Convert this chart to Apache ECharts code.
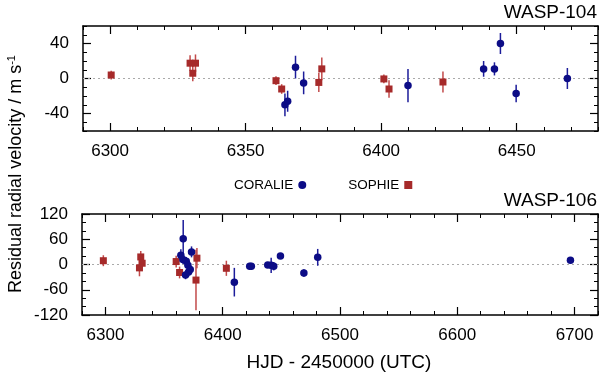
<!DOCTYPE html>
<html>
<head>
<meta charset="utf-8">
<script src="https://cdn.jsdelivr.net/npm/echarts@6/dist/echarts.min.js"></script>
<style>
  html, body { margin: 0; padding: 0; background: #fff; }
  #chart { width: 600px; height: 378px; }
</style>
</head>
<body>
<div id="chart"></div>
<script>
// WASP-104 residuals (HJD - 2450000, m/s)
const w104SophieT = [6300.4, 6329.5, 6330.5, 6331.5, 6361.2, 6363.3, 6377.0, 6378.1, 6401.0, 6402.9, 6422.8];
const w104SophieRV = [4, 17.5, 6, 17.5, -2.5, -12, -4.5, 11, -0.5, -12, -4];
const w104SophieErr = [5, 9, 9, 10, 5, 5.5, 11, 13, 5, 10, 12];

const w104CoralieT = [6364.5, 6365.5, 6368.4, 6371.4, 6409.9, 6437.8, 6441.8, 6444.0, 6449.8, 6468.7];
const w104CoralieRV = [-30, -26, 13, -5, -8, 11, 11, 40, -17, 0];
const w104CoralieErr = [13, 12, 13, 13, 19, 9, 7.5, 12, 10, 12];

// WASP-106 residuals
const w106SophieT = [6298.2, 6329.0, 6330.1, 6331.3, 6360.3, 6363.2, 6377.2, 6378.0, 6403.1];
const w106SophieRV = [9, -8, 18, 3, 7, -19, -37, 15, -9];
const w106SophieErr = [13, 20, 14, 12, 14, 14, 72, 24, 18];

const w106CoralieT = [6364.3, 6366.0, 6366.3, 6368.3, 6368.9, 6370.3, 6370.9, 6372.3, 6373.4, 6409.9,
  6423.0, 6424.4, 6438.4, 6441.3, 6443.5, 6449.2, 6469.2, 6481.0, 6696.5];
const w106CoralieRV = [22, 12, 61, -25, 8, -2, -18, -12, 30, -42, -4, -4, -1, -2, -4, 20, -20, 17, 10];
const w106CoralieErr = [14, 10, 45, 10, 10, 8, 10, 10, 13, 34, 5, 5, 6, 18, 10, 5, 9, 20, 4];

// tick labels
const topXTicks = [6300, 6350, 6400, 6450];
const topYTicks = [-40, 0, 40];
const botXTicks = [6300, 6400, 6500, 6600, 6700];
const botYTicks = [-120, -60, 0, 60, 120];

const BLUE = '#0c0c86';
const RED = '#a62a2a';
const BLUE_BAR = '#1c1c9a';
const RED_BAR = '#c24a4a';
const FONT = 'Liberation Sans, Arial, sans-serif';

function zip(t, v, e) {
  return t.map((x, i) => [x, v[i], e[i]]);
}

// two axes per side: one carries minor ticks + line, one the major ticks + labels
function axisPair(kind, grid, pos, min, max, step, majors, labels) {
  const base = {
    type: 'value', gridIndex: grid, position: pos, min: min, max: max,
    splitLine: { show: false }
  };
  const minor = Object.assign({}, base, {
    interval: step,
    axisLine: { show: true, onZero: false, lineStyle: { color: '#000', width: 1.5 } },
    axisTick: { show: true, inside: true, length: 4, lineStyle: { color: '#000', width: 1 } },
    axisLabel: { show: false }
  });
  const major = Object.assign({}, base, {
    interval: step,
    axisLine: { show: false, onZero: false },
    axisTick: { show: true, inside: true, length: 8, customValues: majors,
      lineStyle: { color: '#000', width: 1.2 } },
    axisLabel: { show: labels, customValues: majors, color: '#000', fontSize: 17,
      fontFamily: FONT, margin: kind === 'x' ? 12 : 14,
      formatter: v => String(v) }
  });
  return [minor, major];
}

const xAxes = [].concat(
  axisPair('x', 0, 'bottom', 6290, 6480, 10, topXTicks, true),
  axisPair('x', 0, 'top', 6290, 6480, 10, topXTicks, false),
  axisPair('x', 1, 'bottom', 6280, 6720, 20, botXTicks, true),
  axisPair('x', 1, 'top', 6280, 6720, 20, botXTicks, false)
);
const yAxes = [].concat(
  axisPair('y', 0, 'left', -60, 60, 10, topYTicks, true),
  axisPair('y', 0, 'right', -60, 60, 10, topYTicks, false),
  axisPair('y', 1, 'left', -120, 120, 20, botYTicks, true),
  axisPair('y', 1, 'right', -120, 120, 20, botYTicks, false)
);

function zeroLine(ax) {
  return {
    type: 'scatter', xAxisIndex: ax, yAxisIndex: ax, z: 1, silent: true, data: [],
    markLine: {
      silent: true, symbol: 'none', label: { show: false }, z: 1,
      lineStyle: { type: [2, 3], color: '#aaa', width: 1 },
      data: [{ yAxis: 0 }]
    }
  };
}

function errSeries(data, ax, color) {
  return {
    type: 'custom', xAxisIndex: ax, yAxisIndex: ax, z: 2, silent: true,
    data: data,
    renderItem: function (params, api) {
      const x = api.value(0), y = api.value(1), e = api.value(2);
      const p1 = api.coord([x, y - e]);
      const p2 = api.coord([x, y + e]);
      return {
        type: 'line',
        shape: { x1: p1[0], y1: p1[1], x2: p2[0], y2: p2[1] },
        style: { stroke: color, lineWidth: 1.5 }
      };
    }
  };
}

function pointSeries(name, data, ax, symbol, color) {
  return {
    name: name, type: 'scatter', xAxisIndex: ax, yAxisIndex: ax, z: 3,
    symbol: symbol, symbolSize: symbol === 'circle' ? 7.5 : 7,
    itemStyle: { color: color, opacity: 1 },
    data: data.map(d => [d[0], d[1]])
  };
}

const chart = echarts.init(document.getElementById('chart'));

chart.setOption({
  animation: false,
  backgroundColor: '#fff',
  grid: [
    { left: 83, right: 2, top: 26, height: 105 },
    { left: 82, right: 2, top: 214, height: 101 }
  ],
  xAxis: xAxes,
  yAxis: yAxes,
  legend: {
    left: 229, top: 173, align: 'right', itemGap: 42,
    itemWidth: 8, itemHeight: 8,
    textStyle: { fontSize: 13.5, fontFamily: FONT, color: '#000' },
    data: [
      { name: 'CORALIE', icon: 'circle' },
      { name: 'SOPHIE', icon: 'rect' }
    ]
  },
  graphic: [
    { type: 'text', right: 3, top: 3,
      style: { text: 'WASP-104', fontSize: 19, fontFamily: FONT, fill: '#000' } },
    { type: 'text', right: 3, top: 191,
      style: { text: 'WASP-106', fontSize: 19, fontFamily: FONT, fill: '#000' } },
    { type: 'text', x: 339, y: 363,
      style: { text: 'HJD - 2450000 (UTC)', fontSize: 19, fontFamily: FONT, fill: '#000',
        align: 'center', verticalAlign: 'middle' } },
    { type: 'text', x: 16, y: 174, rotation: Math.PI / 2,
      style: {
        text: '{a|Residual radial velocity / m s}{s|-1}',
        align: 'center', verticalAlign: 'middle',
        rich: {
          a: { fontSize: 18, fontFamily: FONT, fill: '#000', lineHeight: 20 },
          s: { fontSize: 11, fontFamily: FONT, fill: '#000', verticalAlign: 'top', lineHeight: 20, padding: [0, 0, 8, 0] }
        }
      } }
  ],
  series: [
    zeroLine(0),
    errSeries(zip(w104SophieT, w104SophieRV, w104SophieErr), 0, RED_BAR),
    errSeries(zip(w104CoralieT, w104CoralieRV, w104CoralieErr), 0, BLUE_BAR),
    pointSeries('SOPHIE', zip(w104SophieT, w104SophieRV, w104SophieErr), 0, 'rect', RED),
    pointSeries('CORALIE', zip(w104CoralieT, w104CoralieRV, w104CoralieErr), 0, 'circle', BLUE),
    zeroLine(4),
    errSeries(zip(w106SophieT, w106SophieRV, w106SophieErr), 4, RED_BAR),
    errSeries(zip(w106CoralieT, w106CoralieRV, w106CoralieErr), 4, BLUE_BAR),
    pointSeries('SOPHIE', zip(w106SophieT, w106SophieRV, w106SophieErr), 4, 'rect', RED),
    pointSeries('CORALIE', zip(w106CoralieT, w106CoralieRV, w106CoralieErr), 4, 'circle', BLUE)
  ]
});
</script>
</body>
</html>
